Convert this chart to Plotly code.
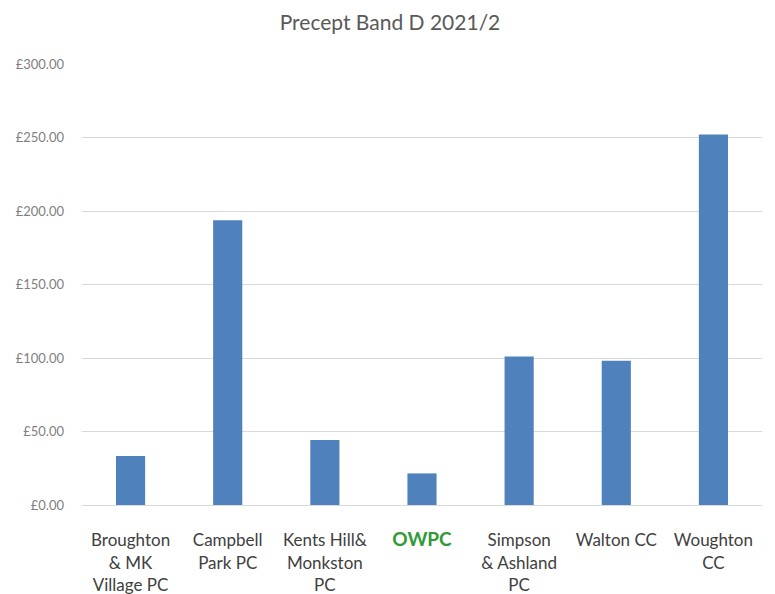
import plotly.graph_objects as go

categories = ["Broughton & MK Village PC", "Campbell Park PC", "Kents Hill& Monkston PC",
              "OWPC", "Simpson & Ashland PC", "Walton CC", "Woughton CC"]
tick_labels = ["Broughton<br>& MK<br>Village PC", "Campbell<br>Park PC", "Kents Hill&<br>Monkston<br>PC",
               "<b><span style='color:#2f9a36;font-size:19px'>OWPC</span></b>", "Simpson<br>& Ashland<br>PC",
               "Walton CC", "Woughton<br>CC"]
values = [33.3, 193.7, 44.3, 21.5, 101.1, 98.2, 252.0]
y_ticks = [0, 50, 100, 150, 200, 250, 300]
y_tick_labels = ["£0.00", "£50.00", "£100.00", "£150.00", "£200.00", "£250.00", "£300.00"]

fig = go.Figure(go.Bar(x=categories, y=values, marker=dict(color="#4f81bd", line=dict(width=0))))

fig.update_layout(
    width=775, height=594,
    margin=dict(l=74, r=21, t=56, b=97),
    paper_bgcolor="white", plot_bgcolor="white",
    bargap=0.7,
    showlegend=False,
    font=dict(family="Lato, sans-serif"),
    title=dict(text="Precept Band D 2021/2", x=382/775, xanchor="center",
               y=1-15/594, yanchor="middle", font=dict(size=21, color="#595959", family="Lato")),
)
fig.update_xaxes(
    tickmode="array", tickvals=categories, ticktext=tick_labels,
    tickfont=dict(size=17, color="#404040", family="Lato"),
    showline=True, linecolor="#d9d9d9", linewidth=1, automargin=False,
    showgrid=False, ticks="", ticklabelstandoff=20, tickangle=0,
)
fig.update_yaxes(
    range=[0, 300], tickmode="array", tickvals=y_ticks, ticktext=y_tick_labels,
    tickfont=dict(size=13, color="#7f7f7f", family="Lato"), automargin=False,
    showgrid=True, gridcolor="#d9d9d9", gridwidth=1,
    zeroline=False, showline=False, ticks="", ticklabelstandoff=17,
)

fig.write_html("out.html")
